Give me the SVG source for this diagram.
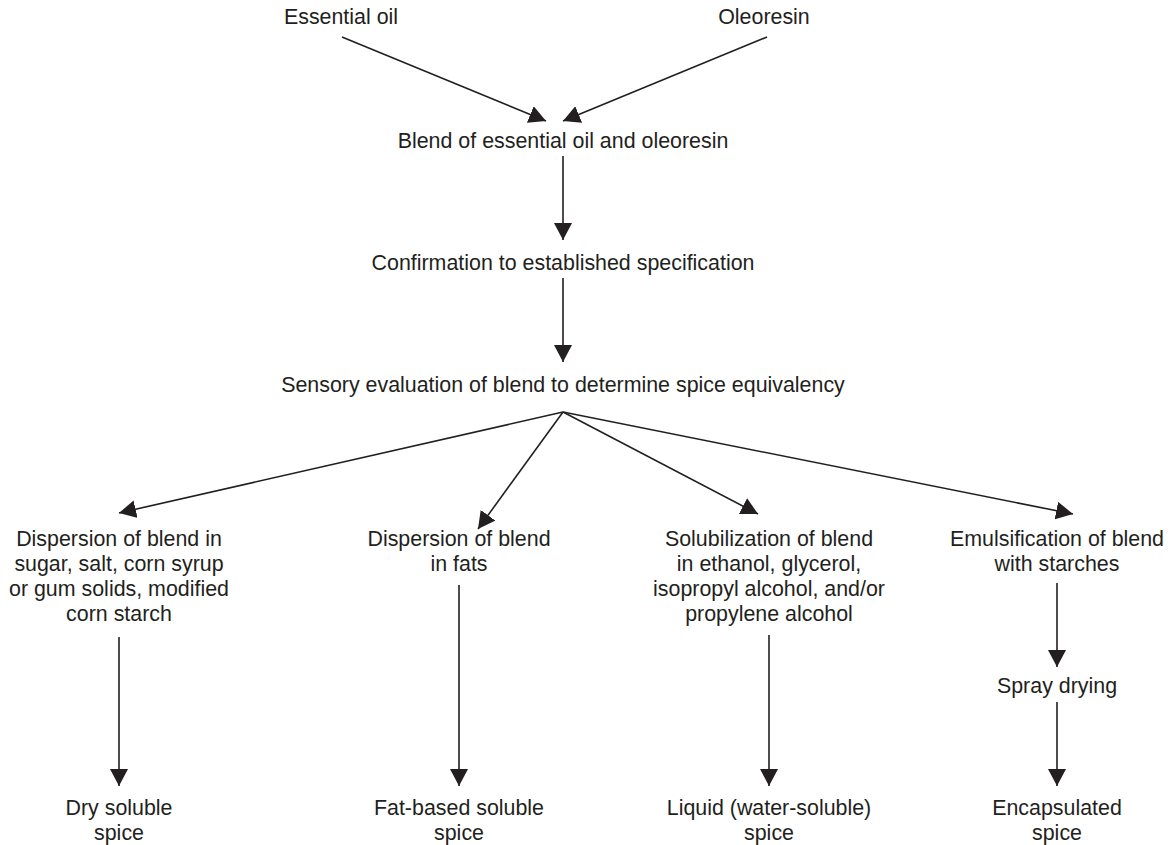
<svg xmlns="http://www.w3.org/2000/svg" width="1170" height="845" viewBox="0 0 1170 845">
  <style>
    .lbl { font-family: "Liberation Sans", Arial, Helvetica, sans-serif; font-size: 21.4px; fill: #231f20; text-anchor: middle; }
    .edge { stroke: #231f20; stroke-width: 1.6; fill: none; marker-end: url(#arrow); }
  </style>
  <defs>
    <marker id="arrow" viewBox="0 0 17 18" refX="17" refY="9" markerWidth="17" markerHeight="18" markerUnits="userSpaceOnUse" orient="auto">
      <path d="M0,0 L17,9 L0,18 Z" fill="#231f20"/>
    </marker>
  </defs>
  <rect width="1170" height="845" fill="#ffffff"/>

  <g id="connectors">
    <line class="edge" x1="342" y1="37" x2="546" y2="121"/>
    <line class="edge" x1="767" y1="37" x2="563" y2="121"/>
    <line class="edge" x1="563" y1="156" x2="563" y2="240"/>
    <line class="edge" x1="563" y1="278" x2="563" y2="362"/>
    <line class="edge" x1="563" y1="412" x2="119" y2="513"/>
    <line class="edge" x1="563" y1="412" x2="478" y2="529"/>
    <line class="edge" x1="563" y1="412" x2="758" y2="514"/>
    <line class="edge" x1="563" y1="412" x2="1073" y2="514"/>
    <line class="edge" x1="119" y1="637" x2="119" y2="786"/>
    <line class="edge" x1="459" y1="585" x2="459" y2="786"/>
    <line class="edge" x1="769" y1="635" x2="769" y2="786"/>
    <line class="edge" x1="1057" y1="583" x2="1057" y2="667"/>
    <line class="edge" x1="1057" y1="702" x2="1057" y2="786"/>
  </g>

  <g id="essential-oil"><text class="lbl" x="341" y="24">Essential oil</text></g>
  <g id="oleoresin"><text class="lbl" x="764" y="24">Oleoresin</text></g>
  <g id="blend"><text class="lbl" x="563" y="148">Blend of essential oil and oleoresin</text></g>
  <g id="confirmation"><text class="lbl" x="563" y="270">Confirmation to established specification</text></g>
  <g id="sensory"><text class="lbl" x="563" y="392">Sensory evaluation of blend to determine spice equivalency</text></g>

  <g id="dispersion-sugar">
    <text class="lbl" x="119" y="546">Dispersion of blend in</text>
    <text class="lbl" x="119" y="571">sugar, salt, corn syrup</text>
    <text class="lbl" x="119" y="596">or gum solids, modified</text>
    <text class="lbl" x="119" y="621">corn starch</text>
  </g>
  <g id="dispersion-fats">
    <text class="lbl" x="459" y="546">Dispersion of blend</text>
    <text class="lbl" x="459" y="571">in fats</text>
  </g>
  <g id="solubilization">
    <text class="lbl" x="769" y="546">Solubilization of blend</text>
    <text class="lbl" x="769" y="571">in ethanol, glycerol,</text>
    <text class="lbl" x="769" y="596">isopropyl alcohol, and/or</text>
    <text class="lbl" x="769" y="621">propylene alcohol</text>
  </g>
  <g id="emulsification">
    <text class="lbl" x="1057" y="546">Emulsification of blend</text>
    <text class="lbl" x="1057" y="571">with starches</text>
  </g>
  <g id="spray-drying"><text class="lbl" x="1057" y="693">Spray drying</text></g>

  <g id="dry-soluble">
    <text class="lbl" x="119" y="815">Dry soluble</text>
    <text class="lbl" x="119" y="840">spice</text>
  </g>
  <g id="fat-based">
    <text class="lbl" x="459" y="815">Fat-based soluble</text>
    <text class="lbl" x="459" y="840">spice</text>
  </g>
  <g id="liquid">
    <text class="lbl" x="769" y="815">Liquid (water-soluble)</text>
    <text class="lbl" x="769" y="840">spice</text>
  </g>
  <g id="encapsulated">
    <text class="lbl" x="1057" y="815">Encapsulated</text>
    <text class="lbl" x="1057" y="840">spice</text>
  </g>
</svg>
